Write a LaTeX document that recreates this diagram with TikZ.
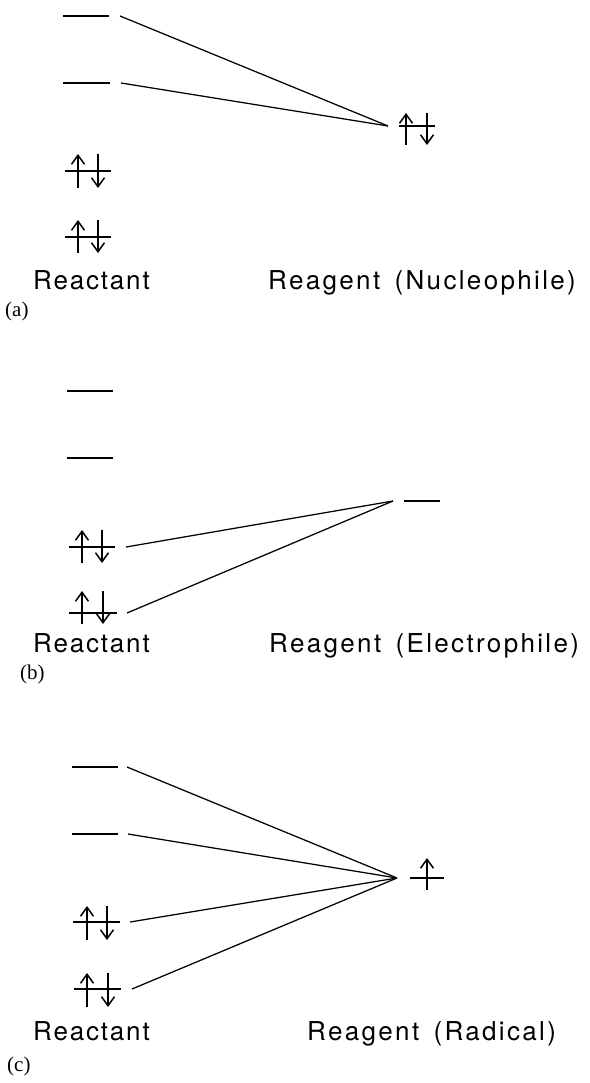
\documentclass[tikz,border=0pt]{standalone}
\usepackage{fontspec}
\usetikzlibrary{arrows.meta}
\newfontfamily\labfont[LetterSpace=7]{TeX Gyre Heros}
\newfontfamily\reagfont[LetterSpace=9,WordSpace=1.5]{TeX Gyre Heros}
\newfontfamily\tagfont{Liberation Serif}
\begin{document}
\begin{tikzpicture}[x=1pt,y=-1pt,
  level/.style={line width=1.5pt},
  conn/.style={line width=1.25pt},
  spin/.style={line width=1.5pt,-{Straight Barb[length=9pt,width=13pt,line width=1.5pt]}},
  lab/.style={anchor=base west,inner sep=0pt,font=\labfont\fontsize{26}{30}\selectfont},
  reag/.style={anchor=base west,inner sep=0pt,font=\reagfont\fontsize{26}{30}\selectfont},
  tag/.style={anchor=base west,inner sep=0pt,font=\tagfont\fontsize{21}{24}\selectfont}]
\useasboundingbox (0,0) rectangle (589,1083);

% ---------- (a) nucleophile ----------
\coordinate (a1l) at (63,16);  \coordinate (a1r) at (109,16); \coordinate (a1c) at (120,16);
\coordinate (a2l) at (63,83);  \coordinate (a2r) at (110,83); \coordinate (a2c) at (121,83);
\coordinate (aC) at (388,126);
\draw[level] (a1l) -- (a1r);
\draw[level] (a2l) -- (a2r);
\draw[level] (65,171) -- (111,171);
\draw[spin] (78,188) -- (78,154);
\draw[spin] (98,154) -- (98,188);
\draw[level] (65,237) -- (111,237);
\draw[spin] (78,253) -- (78,220);
\draw[spin] (98,220) -- (98,253);
\draw[level] (399,126) -- (435,126);
\draw[spin] (406,145) -- (406,113);
\draw[spin] (427,113) -- (427,145);
\draw[conn] (a1c) -- (aC);
\draw[conn] (a2c) -- (aC);
\node[lab] (ta1) at (33,289) {Reactant};
\node[reag] (ta2) at (268,289) {Reagent (Nucleophile)};
\node[tag] (ta) at (5,316) {(a)};

% ---------- (b) electrophile ----------
\coordinate (b3c) at (126,547); \coordinate (b4c) at (127,613);
\coordinate (bC) at (393,501);
\draw[level] (67,391) -- (113,391);
\draw[level] (67,458) -- (113,458);
\draw[level] (69,547) -- (115,547);
\draw[spin] (82,563) -- (82,530);
\draw[spin] (102,530) -- (102,563);
\draw[level] (69,613) -- (117,613);
\draw[spin] (82,624) -- (82,591);
\draw[spin] (103,591) -- (103,624);
\draw[level] (404,501) -- (440,501);
\draw[conn] (b3c) -- (bC);
\draw[conn] (b4c) -- (bC);
\node[lab] (tb1) at (33,652) {Reactant};
\node[reag] (tb2) at (269,652) {Reagent (Electrophile)};
\node[tag] (tb) at (20,679) {(b)};

% ---------- (c) radical ----------
\coordinate (c1c) at (127,767); \coordinate (c2c) at (128,834);
\coordinate (c3c) at (130,922); \coordinate (c4c) at (132,989);
\coordinate (cC) at (397,878);
\draw[level] (72,767) -- (118,767);
\draw[level] (72,834) -- (118,834);
\draw[level] (73,922) -- (120,922);
\draw[spin] (87,940) -- (87,906);
\draw[spin] (107,906) -- (107,940);
\draw[level] (74,989) -- (121,989);
\draw[spin] (87,1007) -- (87,973);
\draw[spin] (108,973) -- (108,1007);
\draw[level] (410,878) -- (444,878);
\draw[spin] (427,890) -- (427,858);
\draw[conn] (c1c) -- (cC);
\draw[conn] (c2c) -- (cC);
\draw[conn] (c3c) -- (cC);
\draw[conn] (c4c) -- (cC);
\node[lab] (tc1) at (33,1040) {Reactant};
\node[reag] (tc2) at (307,1040) {Reagent (Radical)};
\node[tag] (tc) at (7,1071) {(c)};
\end{tikzpicture}
\end{document}
